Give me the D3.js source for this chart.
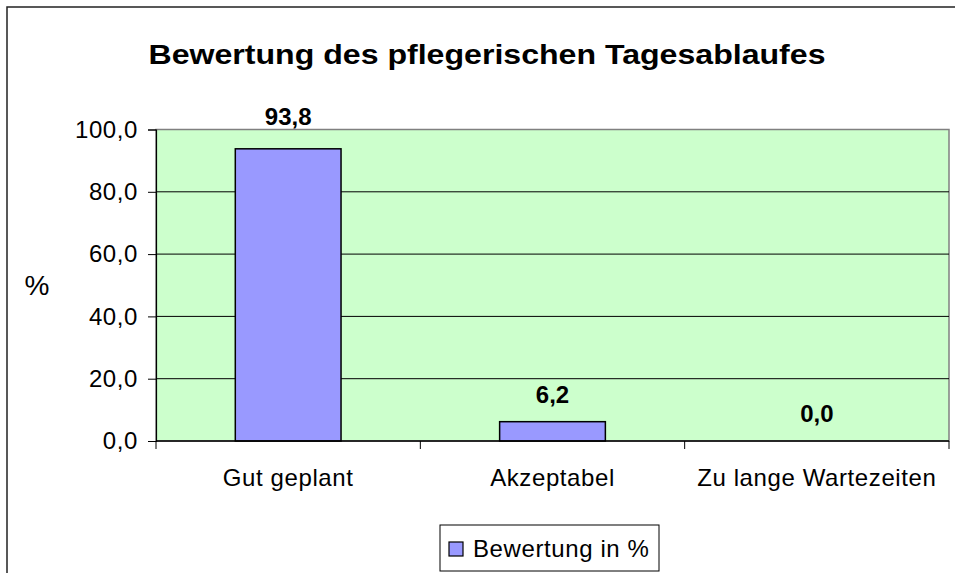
<!DOCTYPE html>
<html lang="de">
<head>
<meta charset="UTF-8">
<title>Bewertung des pflegerischen Tagesablaufes</title>
<script src="https://d3js.org/d3.v7.min.js"></script>
<style>
    body { margin: 0; background: #fff; }
    svg { display: block; font-family: Arial, "Liberation Sans", sans-serif; }
    .axis text { font-size: 24px; fill: #000; letter-spacing: 0.6px; }
    .axis path, .axis line { stroke: #000; }
    .grid line { stroke: #000; stroke-width: 1px; }
    .value-label { font-size: 24px; font-weight: bold; }
</style>
</head>
<body>
<svg width="955" height="573"></svg>
<script>
    // data
    const categories = ["Gut geplant", "Akzeptabel", "Zu lange Wartezeiten"];
    const values = [93.8, 6.2, 0.0];
    const yTicks = [0, 20, 40, 60, 80, 100];
    const seriesName = "Bewertung in %";
    const chartTitle = "Bewertung des pflegerischen Tagesablaufes";

    const svg = d3.select("svg");
    const plot = { left: 156, right: 949, top: 129.5, bottom: 441 };

    const de = d3.formatLocale({ decimal: ",", thousands: ".", grouping: [3], currency: ["", " €"] });
    const fmt = de.format(".1f");

    // outer chart frame (runs past the right and bottom edges)
    svg.append("path")
        .attr("d", "M7,580 L7,7 L960,7")
        .attr("fill", "none")
        .attr("stroke", "#222")
        .attr("stroke-width", 1.5);

    svg.append("text")
        .attr("x", 487).attr("y", 64)
        .attr("text-anchor", "middle")
        .attr("font-size", 27).attr("font-weight", "bold")
        .attr("textLength", 677).attr("lengthAdjust", "spacingAndGlyphs")
        .text(chartTitle);

    const x = d3.scaleBand().domain(categories).range([plot.left, plot.right]).padding(0);
    const y = d3.scaleLinear().domain([0, 100]).range([plot.bottom, plot.top]);

    // plot area
    svg.append("rect")
        .attr("x", plot.left).attr("y", plot.top)
        .attr("width", plot.right - plot.left).attr("height", plot.bottom - plot.top)
        .attr("fill", "#ccffcc")
        .attr("stroke", "#808080").attr("stroke-width", 1.5);

    svg.append("g").attr("class", "grid")
        .selectAll("line")
        .data(yTicks.filter(d => d > 0 && d < 100))
        .join("line")
        .attr("x1", plot.left).attr("x2", plot.right)
        .attr("y1", d => y(d)).attr("y2", d => y(d));

    // bars
    const barW = x.bandwidth() * 0.4;
    svg.append("g")
        .selectAll("rect")
        .data(categories)
        .join("rect")
        .attr("x", d => x(d) + (x.bandwidth() - barW) / 2)
        .attr("width", barW)
        .attr("y", (d, i) => y(values[i]))
        .attr("height", (d, i) => y(0) - y(values[i]))
        .attr("fill", "#9999ff")
        .attr("stroke", "#000")
        .attr("stroke-width", 1.5);

    svg.append("g")
        .selectAll("text")
        .data(categories)
        .join("text")
        .attr("class", "value-label")
        .attr("x", d => x(d) + x.bandwidth() / 2)
        .attr("y", (d, i) => y(values[i]) - (values[i] > 50 ? 24 : 19))
        .attr("text-anchor", "middle")
        .text((d, i) => fmt(values[i]));

    // y axis
    const yAxis = svg.append("g").attr("class", "axis")
        .attr("transform", `translate(${plot.left},0)`)
        .call(d3.axisLeft(y).tickValues(yTicks).tickFormat(fmt).tickSize(8).tickPadding(10));
    yAxis.select(".domain").attr("stroke-width", 1.2);

    // x axis: ticks at the category borders
    const xAxis = svg.append("g").attr("class", "axis")
        .attr("transform", `translate(0,${plot.bottom})`);
    xAxis.append("line")
        .attr("x1", plot.left).attr("x2", plot.right)
        .attr("stroke-width", 1.5);
    xAxis.selectAll(".tick")
        .data(categories.concat([null]))
        .join("line")
        .attr("class", "tick")
        .attr("x1", (d, i) => plot.left + i * x.step())
        .attr("x2", (d, i) => plot.left + i * x.step())
        .attr("y1", 0).attr("y2", 8);
    xAxis.selectAll("text")
        .data(categories)
        .join("text")
        .attr("x", d => x(d) + x.bandwidth() / 2)
        .attr("y", 45)
        .attr("text-anchor", "middle")
        .text(d => d);

    svg.append("text")
        .attr("x", 37).attr("y", 295)
        .attr("text-anchor", "middle")
        .attr("font-size", 28)
        .text("%");

    // legend
    const lg = svg.append("g").attr("transform", "translate(440,525)");
    lg.append("rect")
        .attr("width", 219).attr("height", 46)
        .attr("fill", "#fff").attr("stroke", "#000").attr("stroke-width", 1);
    lg.append("rect")
        .attr("x", 9).attr("y", 17).attr("width", 14).attr("height", 14)
        .attr("fill", "#9999ff").attr("stroke", "#000").attr("stroke-width", 1.2);
    lg.append("text")
        .attr("x", 33).attr("y", 32)
        .attr("font-size", 24).attr("letter-spacing", 0.6)
        .text(seriesName);
</script>
</body>
</html>
